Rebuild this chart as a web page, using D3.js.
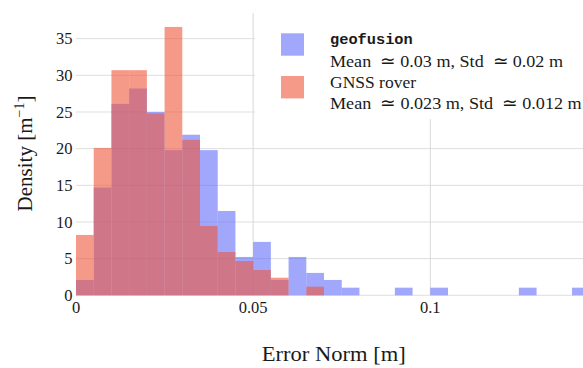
<!DOCTYPE html>
<html>
<head>
<meta charset="utf-8">
<script src="https://cdn.jsdelivr.net/npm/d3@7"></script>
<style>
  html, body { margin: 0; padding: 0; background: #fff; }
  svg { display: block; }
</style>
</head>
<body>
<svg id="chart" width="583" height="368"></svg>
<script>
// ---- data (bin width 0.005 m, bins start at 0) ----
const binWidth = 0.005;
const geofusionDensity = [2.09, 14.7, 26.1, 28.2, 25.0, 19.8, 21.9, 19.8, 11.5, 5.23,
                          7.28, 2.09, 5.23, 3.05, 2.09, 1.04, 0, 0, 1.04, 0,
                          1.04, 0, 0, 0, 0, 1.04, 0, 0, 1.04];
const gnssDensity = [8.23, 20.1, 30.7, 30.7, 24.8, 36.6, 21.2, 9.46, 5.9, 4.68,
                     3.45, 2.4, 0, 1.18];
const xTicks = [0, 0.05, 0.1];
const xTickLabels = ["0", "0.05", "0.1"];
const yTicks = [0, 5, 10, 15, 20, 25, 30, 35];
const seriesNames = ["geofusion", "GNSS rover"];
const seriesStats = ["Mean \u00a0\u2243 0.03 m, Std \u00a0\u2243 0.02 m", "Mean \u00a0\u2243 0.023 m, Std \u00a0\u2243 0.012 m"];
const seriesColors = ["#636efa", "#EF553B"];

const SERIF = "'Liberation Serif', 'Times New Roman', serif";
const MONO = "'Liberation Mono', 'DejaVu Sans Mono', monospace";
const TXT = "#1a1a1a";

// ---- layout ----
const plot = { left: 76, right: 583, top: 13, bottom: 295.3 };

const x = d3.scaleLinear().domain([0, 0.1431]).range([plot.left, plot.right]);
const y = d3.scaleLinear().domain([0, 38.5]).range([plot.bottom, plot.top]);

const svg = d3.select("#chart");

svg.append("defs").append("clipPath").attr("id", "clip")
  .append("rect").attr("x", plot.left).attr("y", plot.top)
  .attr("width", plot.right - plot.left).attr("height", plot.bottom - plot.top + 1);

// gridlines
const grid = svg.append("g");
grid.selectAll("line.h").data(yTicks).join("line")
  .attr("x1", plot.left).attr("x2", plot.right)
  .attr("y1", d => y(d)).attr("y2", d => y(d))
  .attr("stroke", "#dedede").attr("stroke-width", 1);
grid.selectAll("line.v").data(xTicks.filter(d => d > 0)).join("line")
  .attr("x1", d => x(d)).attr("x2", d => x(d))
  .attr("y1", plot.top).attr("y2", plot.bottom)
  .attr("stroke", "#d9d9d9").attr("stroke-width", 1);

// bars
const bars = svg.append("g").attr("clip-path", "url(#clip)");
[geofusionDensity, gnssDensity].forEach((arr, si) => {
  bars.append("g").selectAll("rect")
    .data(arr.map((v, i) => ({ i, v })).filter(d => d.v > 0))
    .join("rect")
    .attr("x", d => x(d.i * binWidth))
    .attr("width", d => x((d.i + 1) * binWidth) - x(d.i * binWidth))
    .attr("y", d => y(d.v))
    .attr("height", d => y(0) - y(d.v))
    .attr("fill", seriesColors[si])
    .attr("fill-opacity", 0.6);
});

// y tick labels
svg.append("g").selectAll("text").data(yTicks).join("text")
  .style("font-family", SERIF).style("fill", TXT)
  .attr("x", 72.5).attr("y", d => y(d))
  .attr("dy", "0.35em")
  .attr("text-anchor", "end")
  .style("font-size", "16.5px")
  .text(d => d);

// x tick labels
svg.append("g").selectAll("text").data(xTicks).join("text")
  .style("font-family", SERIF).style("fill", TXT)
  .attr("x", d => x(d)).attr("y", 313)
  .attr("text-anchor", "middle")
  .style("font-size", "16.5px")
  .text((d, i) => xTickLabels[i]);

// axis titles
svg.append("text")
  .style("font-family", SERIF).style("fill", TXT)
  .attr("x", 333.7).attr("y", 361)
  .attr("text-anchor", "middle")
  .style("font-size", "21px")
  .attr("textLength", 144).attr("lengthAdjust", "spacingAndGlyphs")
  .text("Error Norm [m]");

const yt = svg.append("text")
  .style("font-family", SERIF).style("fill", TXT)
  .attr("transform", "translate(32,153.5) rotate(-90)")
  .attr("text-anchor", "middle")
  .style("font-size", "21px");
yt.append("tspan").text("Density [m");
yt.append("tspan").attr("dy", -8).style("font-size", "14px").text("\u22121");
yt.append("tspan").attr("dy", 8).text("]");

// legend
const leg = svg.append("g");
leg.append("rect").attr("x", 255).attr("y", 13).attr("width", 330).attr("height", 106)
  .attr("fill", "#fff");
const swY = [33.3, 76];
seriesNames.forEach((name, i) => {
  leg.append("rect").attr("x", 281).attr("y", swY[i]).attr("width", 23).attr("height", 22.4)
    .attr("fill", seriesColors[i]).attr("fill-opacity", 0.6);
});
leg.append("text").attr("x", 330).attr("y", 43.5)
  .style("font-family", MONO).style("fill", TXT)
  .style("font-weight", "bold").style("font-size", "15.3px")
  .attr("textLength", 82.7).attr("lengthAdjust", "spacingAndGlyphs")
  .text(seriesNames[0]);
leg.append("text").attr("x", 330).attr("y", 67.3)
  .style("font-family", SERIF).style("fill", TXT).style("font-size", "17.5px")
  .attr("textLength", 233).attr("lengthAdjust", "spacingAndGlyphs")
  .text(seriesStats[0]);
leg.append("text").attr("x", 330).attr("y", 88.3)
  .style("font-family", SERIF).style("fill", TXT).style("font-size", "17.5px")
  .attr("textLength", 86).attr("lengthAdjust", "spacingAndGlyphs")
  .text(seriesNames[1]);
leg.append("text").attr("x", 330).attr("y", 109.3)
  .style("font-family", SERIF).style("fill", TXT).style("font-size", "17.5px")
  .attr("textLength", 251.7).attr("lengthAdjust", "spacingAndGlyphs")
  .text(seriesStats[1]);
</script>
</body>
</html>
